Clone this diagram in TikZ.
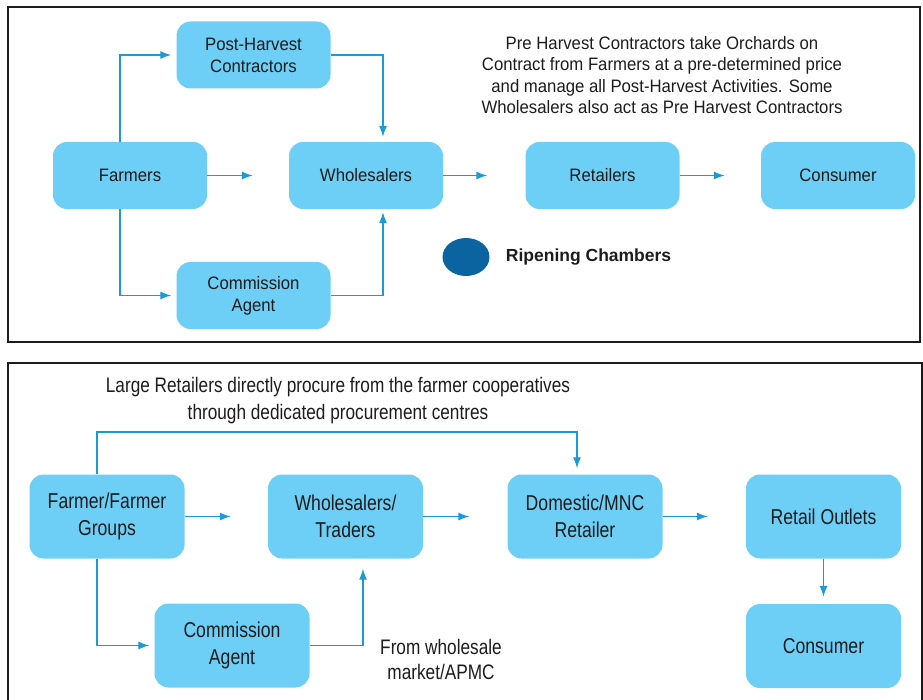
\documentclass[tikz,border=0pt]{standalone}
\usepackage{fontspec}
\setmainfont{Liberation Sans}
\newfontfamily\topfont[FakeStretch=0.93]{Liberation Sans}
\newfontfamily\botfont[FakeStretch=0.82]{Liberation Sans}
\usetikzlibrary{positioning,arrows.meta,shapes.geometric}
\definecolor{ink}{HTML}{1E1B1C}
\definecolor{boxblue}{HTML}{6DCFF6}
\definecolor{flowblue}{HTML}{1B9AD6}
\definecolor{chamberblue}{HTML}{0B64A0}
\tikzset{
  frame/.style={draw=ink, line width=1.4pt},
  box/.style={rectangle, rounded corners=14pt, fill=boxblue, text=ink, align=center, inner sep=0pt},
  topbox/.style={box, minimum width=154pt, minimum height=67pt, font=\topfont\fontsize{18}{22}\selectfont},
  botbox/.style={box, minimum width=155pt, minimum height=84pt, font=\botfont\fontsize{21.5}{27}\selectfont},
  flow/.style={draw=flowblue, line width=1.3pt, -{Latex[length=11pt,width=8pt]}},
  note/.style={text=ink, align=center, inner sep=0pt},
}

\begin{document}
\begin{tikzpicture}[x=1pt,y=-1pt]
  \useasboundingbox (0,0) rectangle (923,700);

  % upper chain
  \draw[frame] (8,7) rectangle (920,342);
  \node[topbox] (farmers) at (130,175.5) {Farmers};
  \node[topbox] (post) at (253.5,55) {Post-Harvest\\Contractors};
  \node[topbox] (comm) at (253.5,295.5) {Commission\\Agent};
  \node[topbox] (whole) at (366,175.5) {Wholesalers};
  \node[topbox] (retail) at (602.5,175.5) {Retailers};
  \node[topbox] (cons) at (838,175.5) {Consumer};

  \node[note, font=\topfont\fontsize{18}{21.5}\selectfont] (orchard) at (662,75)
    {Pre Harvest Contractors take Orchards on\\Contract from Farmers at a pre-determined price\\and manage all Post-Harvest Activities. Some\\Wholesalers also act as Pre Harvest Contractors};

  \node[ellipse, fill=chamberblue, minimum width=47pt, minimum height=38pt, inner sep=0pt] (ripen) at (466,257) {};
  \node[note, right=16pt of ripen, font=\bfseries\fontsize{17.5}{21}\selectfont] (ripenlab) {Ripening Chambers};

  \draw[flow, shorten >=36pt] (farmers) -- (whole);
  \draw[flow, shorten >=38pt] (whole) -- (retail);
  \draw[flow, shorten >=36pt] (retail) -- (cons);
  \draw[flow, shorten >=5pt] ([xshift=-10pt]farmers.north) |- (post.west);
  \draw[flow, shorten >=5pt] ([xshift=-10pt]farmers.south) |- (comm.west);
  \draw[flow, shorten >=5pt] (post.east) -| ([xshift=17pt]whole.north);
  \draw[flow, shorten >=3pt] (comm.east) -| ([xshift=17pt]whole.south);

  % lower chain
  \draw[frame] (8,703) -- (8,363) -- (922,363) -- (922,703);
  \node[botbox] (fgroup) at (107,516.5) {Farmer/Farmer\\Groups};
  \node[botbox] (trade) at (345.5,516.5) {Wholesalers/\\Traders};
  \node[botbox] (comm2) at (232,645.5) {Commission\\Agent};
  \node[botbox] (dom) at (585,516.5) {Domestic/MNC\\Retailer};
  \node[botbox] (outlet) at (823.5,516.5) {Retail Outlets};
  \node[botbox] (cons2) at (823.5,646) {Consumer};

  \node[note, font=\botfont\fontsize{21}{27}\selectfont] (direct lab) at (338,401)
    {Large Retailers directly procure from the farmer cooperatives\\through dedicated procurement centres};
  \node[note, font=\botfont\fontsize{21}{25}\selectfont] (apmc) at (441,659.5)
    {From wholesale\\market/APMC};

  \coordinate (direct) at (577,432);
  \draw[flow, shorten >=37pt] (fgroup) -- (trade);
  \draw[flow, shorten >=38pt] (trade) -- (dom);
  \draw[flow, shorten >=38pt] (dom) -- (outlet);
  \draw[flow, shorten >=7pt] (outlet) -- (cons2);
  \draw[flow, shorten >=6pt] ([xshift=-10pt]fgroup.north) |- (direct) -- (direct |- dom.north);
  \draw[flow, shorten >=5pt] ([xshift=-10pt]fgroup.south) |- (comm2.west);
  \draw[flow, shorten >=10pt] (comm2.east) -| ([xshift=17.5pt]trade.south);
\end{tikzpicture}
\end{document}
